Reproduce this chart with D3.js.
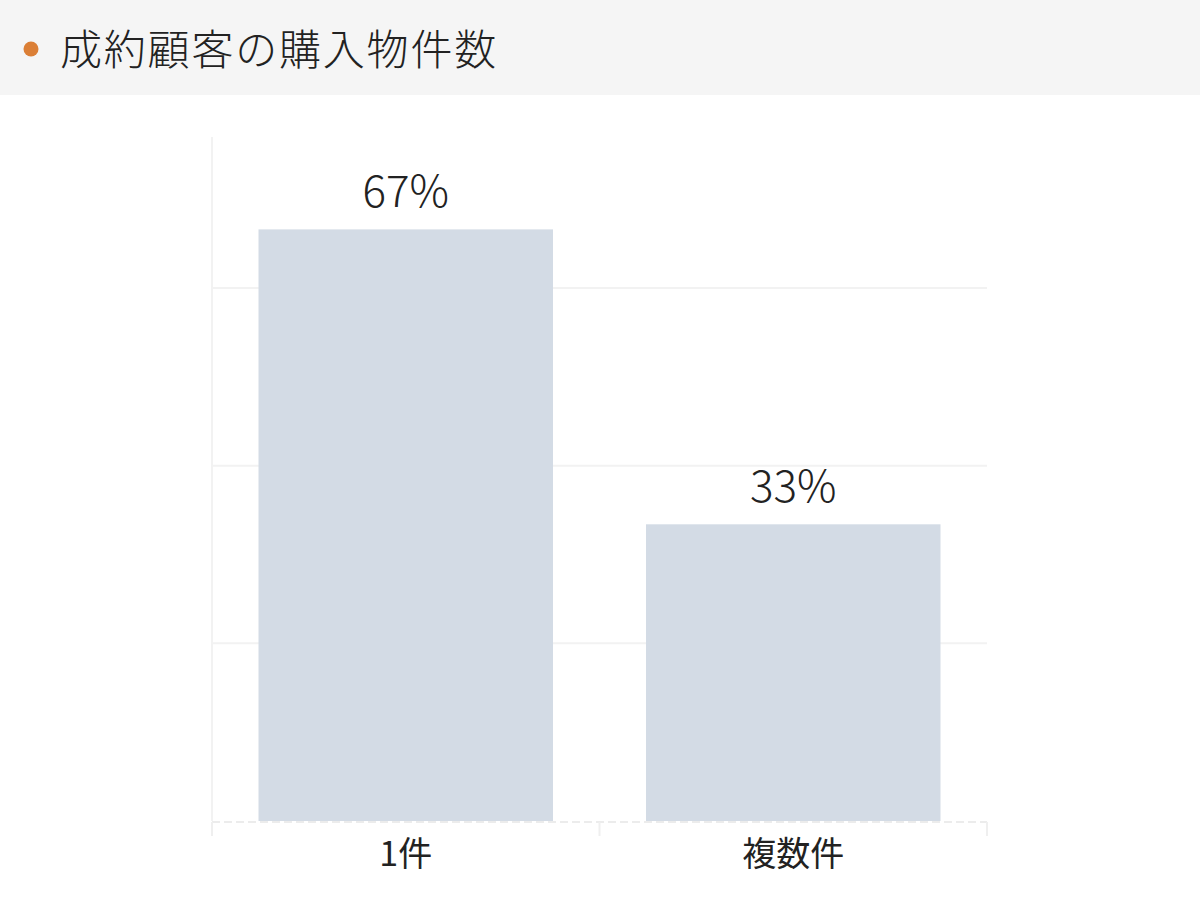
<!DOCTYPE html>
<html>
<head>
<meta charset="utf-8">
<script src="https://cdn.jsdelivr.net/npm/d3@7"></script>
<style>
  body { margin: 0; background: #fff; }
  svg { display: block; font-family: "Noto Sans CJK JP", "Noto Sans", sans-serif; }
</style>
</head>
<body>
<svg id="chart" width="1200" height="900"></svg>
<script>
var title = "成約顧客の購入物件数";
var categories = ["1件", "複数件"];
var shares = [66.6, 33.4];
var shareLabels = ["67%", "33%"];
var gridValues = [20, 40, 60];

var svg = d3.select("#chart");

// header strip
svg.append("rect")
    .attr("x", 0).attr("y", 0)
    .attr("width", 1200).attr("height", 95)
    .attr("fill", "#f5f5f5");

svg.append("circle")
    .attr("cx", 31).attr("cy", 49).attr("r", 7.5)
    .attr("fill", "#db7f36");

svg.append("text")
    .attr("x", 60).attr("y", 65)
    .attr("font-size", 42)
    .attr("font-weight", 300)
    .attr("letter-spacing", 1.8)
    .attr("fill", "#222")
    .text(title);

var plotLeft = 212, plotRight = 987, plotTop = 137, plotBottom = 821;

var x = d3.scaleBand()
    .domain(categories)
    .range([plotLeft, plotRight])
    .paddingInner(0.24)
    .paddingOuter(0.12);

var y = d3.scaleLinear()
    .domain([0, 77])
    .range([plotBottom, plotTop]);

// grid lines
svg.append("g")
    .selectAll("line")
    .data(gridValues)
    .enter().append("line")
    .attr("x1", plotLeft).attr("x2", plotRight)
    .attr("y1", function(d) { return y(d); })
    .attr("y2", function(d) { return y(d); })
    .attr("stroke", "#f2f2f2")
    .attr("stroke-width", 2);

// left axis line
svg.append("line")
    .attr("x1", plotLeft).attr("x2", plotLeft)
    .attr("y1", plotTop).attr("y2", plotBottom)
    .attr("stroke", "#f2f2f2")
    .attr("stroke-width", 2);

// bars
svg.append("g")
    .selectAll("rect")
    .data(shares)
    .enter().append("rect")
    .attr("x", function(d, i) { return x(categories[i]); })
    .attr("y", function(d) { return y(d); })
    .attr("width", x.bandwidth())
    .attr("height", function(d) { return plotBottom - y(d); })
    .attr("fill", "#d3dbe5");

// value labels
svg.append("g")
    .selectAll("text")
    .data(shares)
    .enter().append("text")
    .attr("x", function(d, i) { return x(categories[i]) + x.bandwidth() / 2; })
    .attr("y", function(d) { return y(d) - 22; })
    .attr("text-anchor", "middle")
    .attr("font-size", 44)
    .attr("font-weight", 300)
    .attr("fill", "#222")
    .text(function(d, i) { return shareLabels[i]; });

// x axis: dashed baseline plus band boundary ticks
svg.append("line")
    .attr("x1", plotLeft).attr("x2", plotRight)
    .attr("y1", plotBottom + 1).attr("y2", plotBottom + 1)
    .attr("stroke", "#ececec")
    .attr("stroke-width", 2)
    .attr("stroke-dasharray", "8,4");

var step = (plotRight - plotLeft) / categories.length;
svg.append("g")
    .selectAll("line")
    .data(d3.range(categories.length + 1))
    .enter().append("line")
    .attr("x1", function(d) { return plotLeft + d * step; })
    .attr("x2", function(d) { return plotLeft + d * step; })
    .attr("y1", plotBottom + 1).attr("y2", plotBottom + 15)
    .attr("stroke", "#efefef")
    .attr("stroke-width", 2);

var xAxis = svg.append("g")
    .attr("transform", "translate(0," + plotBottom + ")")
    .call(d3.axisBottom(x).tickSize(0).tickPadding(0));
xAxis.select(".domain").remove();
xAxis.selectAll("text")
    .attr("y", 45)
    .attr("dy", 0)
    .attr("font-size", 34)
    .attr("font-family", "\"Noto Sans CJK JP\", sans-serif")
    .attr("fill", "#222");
</script>
</body>
</html>
